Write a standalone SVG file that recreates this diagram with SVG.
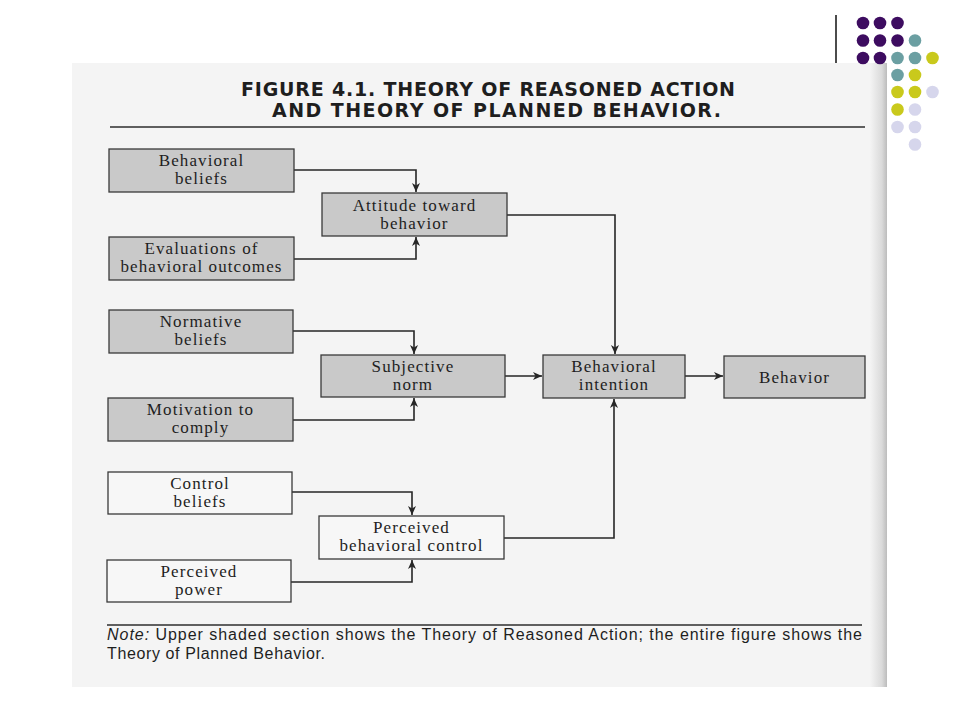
<svg xmlns="http://www.w3.org/2000/svg" width="960" height="720" viewBox="0 0 960 720">
<defs>
<style>
.shade{fill:#c9c9c9;stroke:#3a3a3a;stroke-width:1.3}
.plain{fill:#f7f7f7;stroke:#3a3a3a;stroke-width:1.3}
.lbl{font-family:"Liberation Serif","Times New Roman",serif;font-size:17px;fill:#1e1e1e;text-anchor:middle;letter-spacing:1.1px}
.conn{fill:none;stroke:#262626;stroke-width:1.6}
.title{font-family:"DejaVu Sans","Liberation Sans",sans-serif;font-weight:bold;font-size:19px;fill:#1e1e1e}
.note{font-family:"Liberation Sans","Open Sans",sans-serif;font-size:16px;fill:#1e1e1e}
.rule{stroke:#2e2e2e;stroke-width:1.4}
</style>
<linearGradient id="edge" x1="0" y1="0" x2="1" y2="0">
<stop offset="0" stop-color="#f4f4f4"/>
<stop offset="0.7" stop-color="#dadada"/>
<stop offset="1" stop-color="#bcbcbc"/>
</linearGradient>
<marker id="ah" markerUnits="userSpaceOnUse" markerWidth="10" markerHeight="8" refX="9" refY="4" orient="auto">
<path d="M0,0 L9,4 L0,8 L2.5,4 z" fill="#262626"/>
</marker>
</defs>
<rect x="0" y="0" width="960" height="720" fill="#ffffff"/>
<g id="page">
<rect x="72" y="63" width="815" height="624" fill="#f4f4f4"/>
<rect x="870" y="63" width="17" height="624" fill="url(#edge)"/>
</g>
<g id="decor">
<line x1="836" y1="15" x2="836" y2="63" stroke="#111" stroke-width="1.5"/>
<g fill="#3d0c60">
<circle cx="863" cy="23" r="6.3"/><circle cx="880" cy="23" r="6.3"/><circle cx="897.5" cy="23" r="6.3"/>
<circle cx="863" cy="40.5" r="6.3"/><circle cx="880" cy="40.5" r="6.3"/><circle cx="897.5" cy="40.5" r="6.3"/>
<circle cx="863" cy="58" r="6.3"/><circle cx="880" cy="58" r="6.3"/>
</g>
<g fill="#6b9fa2">
<circle cx="915" cy="40.5" r="6.3"/><circle cx="897.5" cy="58" r="6.3"/><circle cx="915" cy="58" r="6.3"/><circle cx="897.5" cy="75" r="6.3"/>
</g>
<g fill="#c9c91c">
<circle cx="932.5" cy="58" r="6.3"/><circle cx="915" cy="75" r="6.3"/><circle cx="897.5" cy="92" r="6.3"/><circle cx="915" cy="92" r="6.3"/><circle cx="897.5" cy="109.5" r="6.3"/>
</g>
<g fill="#d6d6ec">
<circle cx="932.5" cy="92" r="6.3"/><circle cx="915" cy="109.5" r="6.3"/><circle cx="897.5" cy="127" r="6.3"/><circle cx="915" cy="127" r="6.3"/><circle cx="915" cy="144.5" r="6.3"/>
</g>
</g>
<g id="title">
<text class="title" x="241" y="96" textLength="494" lengthAdjust="spacing">FIGURE 4.1.  THEORY OF REASONED ACTION</text>
<text class="title" x="272" y="117" textLength="449" lengthAdjust="spacing">AND THEORY OF PLANNED BEHAVIOR.</text>
<line class="rule" x1="110" y1="127" x2="865" y2="127"/>
</g>
<g id="connectors">
<path class="conn" d="M294,170 H416 V192" marker-end="url(#ah)"/>
<path class="conn" d="M294,259 H416 V237" marker-end="url(#ah)"/>
<path class="conn" d="M507,215 H615 V354" marker-end="url(#ah)"/>
<path class="conn" d="M293,331 H414 V354" marker-end="url(#ah)"/>
<path class="conn" d="M293,420 H414 V398" marker-end="url(#ah)"/>
<path class="conn" d="M505,376 H542" marker-end="url(#ah)"/>
<path class="conn" d="M685,376 H723" marker-end="url(#ah)"/>
<path class="conn" d="M292,492 H412 V515" marker-end="url(#ah)"/>
<path class="conn" d="M291,582 H412 V560" marker-end="url(#ah)"/>
<path class="conn" d="M504,538 H614 V399" marker-end="url(#ah)"/>
</g>
<g id="behavioral-beliefs">
<rect class="shade" x="109" y="149" width="185" height="43"/>
<text class="lbl" x="201.5" y="166">Behavioral</text>
<text class="lbl" x="201.5" y="184">beliefs</text>
</g>
<g id="attitude-toward-behavior">
<rect class="shade" x="322" y="193" width="185" height="43"/>
<text class="lbl" x="414.5" y="210.5">Attitude toward</text>
<text class="lbl" x="414.5" y="228.5">behavior</text>
</g>
<g id="evaluations">
<rect class="shade" x="109" y="237" width="185" height="43"/>
<text class="lbl" x="201.5" y="254">Evaluations of</text>
<text class="lbl" x="201.5" y="272">behavioral outcomes</text>
</g>
<g id="normative-beliefs">
<rect class="shade" x="109" y="310" width="184" height="43"/>
<text class="lbl" x="201" y="327">Normative</text>
<text class="lbl" x="201" y="345">beliefs</text>
</g>
<g id="subjective-norm">
<rect class="shade" x="321" y="355" width="184" height="42"/>
<text class="lbl" x="413" y="371.5">Subjective</text>
<text class="lbl" x="413" y="389.5">norm</text>
</g>
<g id="motivation-to-comply">
<rect class="shade" x="108" y="398" width="185" height="43"/>
<text class="lbl" x="200.5" y="415">Motivation to</text>
<text class="lbl" x="200.5" y="433">comply</text>
</g>
<g id="behavioral-intention">
<rect class="shade" x="543" y="355" width="142" height="43"/>
<text class="lbl" x="614" y="372">Behavioral</text>
<text class="lbl" x="614" y="390">intention</text>
</g>
<g id="behavior">
<rect class="shade" x="724" y="356" width="141" height="42"/>
<text class="lbl" x="794.5" y="382.5">Behavior</text>
</g>
<g id="control-beliefs">
<rect class="plain" x="108" y="472" width="184" height="42"/>
<text class="lbl" x="200" y="488.5">Control</text>
<text class="lbl" x="200" y="506.5">beliefs</text>
</g>
<g id="perceived-behavioral-control">
<rect class="plain" x="319" y="516" width="185" height="43"/>
<text class="lbl" x="411.5" y="533">Perceived</text>
<text class="lbl" x="411.5" y="551">behavioral control</text>
</g>
<g id="perceived-power">
<rect class="plain" x="107" y="560" width="184" height="42"/>
<text class="lbl" x="199" y="576.5">Perceived</text>
<text class="lbl" x="199" y="594.5">power</text>
</g>
<g id="note">
<line class="rule" x1="107" y1="625" x2="862" y2="625"/>
<text class="note" x="107" y="640" textLength="755" lengthAdjust="spacing"><tspan font-style="italic">Note:</tspan> Upper shaded section shows the Theory of Reasoned Action; the entire figure shows the</text>
<text class="note" x="107" y="659" textLength="218" lengthAdjust="spacing">Theory of Planned Behavior.</text>
</g>
</svg>
